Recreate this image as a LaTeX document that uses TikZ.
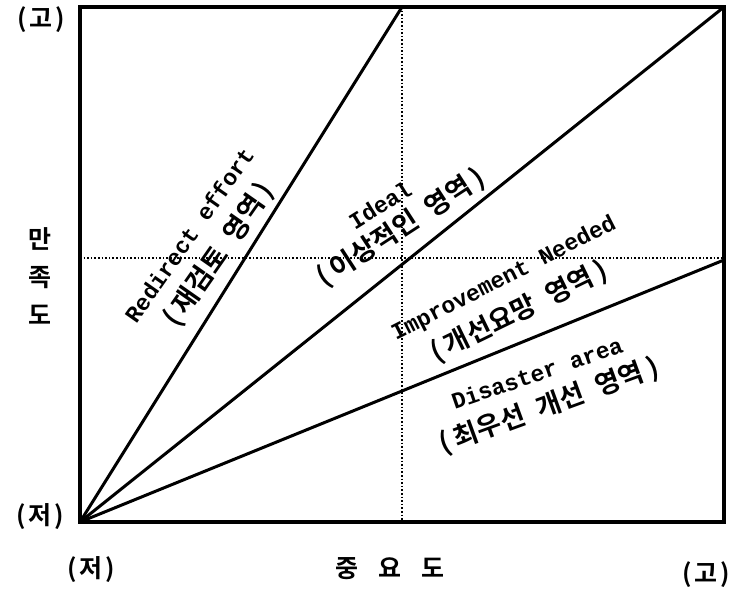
\documentclass[tikz,border=0pt]{standalone}
\usepackage{fontspec}
\newfontfamily\kr{Noto Sans CJK KR}[BoldFont={* Bold}]
\newfontfamily\mono{Liberation Mono}
\newcommand{\pg}{\hspace{5pt}}
\newcommand{\wsp}{\hspace{0.5em}}
\tikzset{
  frame/.style={line width=3.2pt},
  ray/.style={line width=3pt},
  grid/.style={line width=1.6pt, dotted},
  axlabel/.style={font=\kr\bfseries\fontsize{25}{38}\selectfont, inner sep=0pt},
  entxt/.style={font=\mono\bfseries\fontsize{23}{23}\selectfont, inner sep=0pt},
  krtxt/.style={font=\kr\bfseries\fontsize{27}{27}\selectfont, inner sep=0pt},
}
\begin{document}
\begin{tikzpicture}[x=1pt,y=-1pt]
\useasboundingbox (0,0) rectangle (737,591);
\coordinate (O) at (80,522);
\coordinate (TM) at (402,7);
\coordinate (TR) at (724,7);
\coordinate (RM) at (724,260);
\coordinate (TL) at (80,7);
\coordinate (BR) at (724,522);
\coordinate (BM) at (402,522);
\coordinate (LM) at (80,258);
\coordinate (RM2) at (724,258);
% dotted guides
\draw[grid] (TM) -- (BM);
\draw[grid] (LM) -- (RM2);
% frame
\draw[frame] (TL) rectangle (BR);
% rays
\draw[ray] (O) -- (TM);
\draw[ray] (O) -- (TR);
\draw[ray] (O) -- (RM);
% axis labels
\node[axlabel] (yhi) at (41,20) {(\hspace{3pt}고\hspace{3pt})};
\node[axlabel] (ylo) at (40,517) {(\hspace{3pt}저\hspace{3pt})};
\node[axlabel] (xlo) at (91,570) {(\hspace{3pt}저\hspace{3pt})};
\node[axlabel] (xhi) at (706,575) {(\hspace{3pt}고\hspace{3pt})};
\node[axlabel] (xname) at (390,569) {중\hspace{20pt}요\hspace{20pt}도};
\node[axlabel, align=center] (yname) at (40,276) {만\\족\\도};
% region labels
\node[entxt, rotate=55] (r1) at (189,235) {Redirect effort};
\node[krtxt, rotate=55] (r1k) at (219,255) {(\pg 재검토\wsp 영역\pg)};
\node[entxt, rotate=32] (r2) at (380,205) {Ideal};
\node[krtxt, rotate=33] (r2k) at (401,228) {(\pg 이상적인\wsp 영역\pg)};
\node[entxt, rotate=27] (r3) at (504,279) {Improvement Needed};
\node[krtxt, rotate=26] (r3k) at (519,312) {(\pg 개선요망\wsp 영역\pg)};
\node[entxt, rotate=19] (r4) at (537,373) {Disaster area};
\node[krtxt, rotate=20] (r4k) at (549,406) {(\pg 최우선\wsp 개선\wsp 영역\pg)};
\end{tikzpicture}
\end{document}
